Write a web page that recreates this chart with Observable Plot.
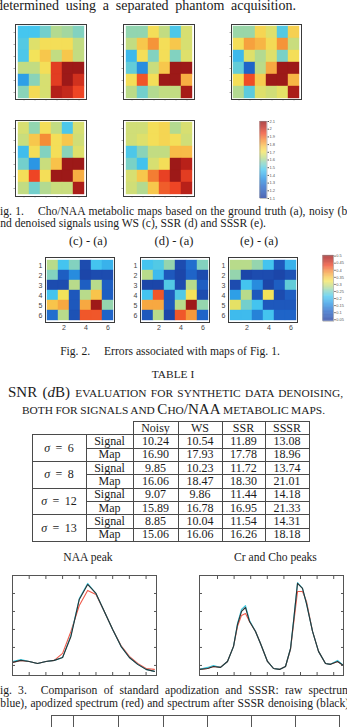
<!DOCTYPE html>
<html><head><meta charset="utf-8">
<script src="https://cdn.jsdelivr.net/npm/d3@7"></script>
<script src="https://cdn.jsdelivr.net/npm/@observablehq/plot@0.6"></script>
<style>
html,body{margin:0;padding:0;background:#fff;}
#page{position:relative;width:347px;height:727px;overflow:hidden;background:#fff;}
table.snr{position:absolute;left:31.5px;top:421px;border-collapse:collapse;table-layout:fixed;width:278px;font-family:"Liberation Serif","Times New Roman",serif;font-size:12px;color:#1b1b1b;}
table.snr tr{height:13.33px;}
table.snr td{border:1px solid #4a4a4a;padding:0;line-height:11px;text-align:center;white-space:nowrap;}
table.snr td.blank{border:none;}
table.t2{position:absolute;left:51px;top:715px;border-collapse:collapse;table-layout:fixed;width:289px;}
table.t2 td{border:1px solid #555;height:20px;padding:0;}
</style></head><body><div id="page"></div>
<script>
const SERIF = '"Liberation Serif","Times New Roman",serif';
const SANS = '"Liberation Sans",Arial,sans-serif';

// ---------- data ----------
const gridRows = [1, 2, 3, 4, 5, 6];
const gridCols = [1, 2, 3, 4, 5, 6];

const mapGroundTruth = [
  [1.47,1.47,1.53,1.61,1.59,1.55],
  [1.49,1.67,1.71,1.71,1.71,1.63],
  [1.48,1.70,1.76,1.63,1.76,1.63],
  [1.63,1.63,1.71,1.96,2.09,2.09],
  [1.38,1.56,1.66,1.96,2.09,1.99],
  [1.56,1.72,1.66,2.04,2.01,1.94]];
const mapNoisy = [
  [1.57,1.57,1.71,1.63,1.48,1.66],
  [1.63,1.76,1.84,1.71,1.76,1.66],
  [1.44,1.71,1.55,1.71,1.55,1.67],
  [1.51,1.34,1.64,1.76,2.09,2.09],
  [1.71,1.92,1.71,2.09,2.09,1.80],
  [1.62,1.53,1.61,1.63,1.63,2.07]];
const mapWS = [
  [1.58,1.58,1.73,1.67,1.49,1.74],
  [1.71,1.82,1.79,1.72,1.84,1.64],
  [1.44,1.67,1.61,1.67,1.54,1.71],
  [1.51,1.25,1.62,1.81,2.09,2.09],
  [1.71,1.93,1.75,2.09,2.09,1.79],
  [1.61,1.50,1.67,1.65,1.68,2.06]];
const mapSSR = [
  [1.66,1.57,1.71,1.63,1.48,1.66],
  [1.64,1.76,1.85,1.71,1.76,1.65],
  [1.45,1.71,1.55,1.71,1.56,1.67],
  [1.53,1.36,1.64,1.77,2.09,2.09],
  [1.71,1.94,1.71,2.09,2.09,1.80],
  [1.63,1.53,1.61,1.64,1.64,2.06]];
const mapSSSR = [
  [1.65,1.65,1.71,1.73,1.61,1.66],
  [1.65,1.67,1.71,1.73,1.71,1.65],
  [1.48,1.56,1.63,1.63,1.78,1.78],
  [1.54,1.46,1.66,1.71,2.09,2.03],
  [1.66,1.76,1.87,1.95,2.09,1.96],
  [1.65,1.61,1.76,1.91,1.94,2.03]];

const errWS = [
  [0.28,0.21,0.25,0.07,0.21,0.19],
  [0.25,0.10,0.15,0.06,0.07,0.07],
  [0.07,0.07,0.28,0.10,0.28,0.10],
  [0.21,0.32,0.09,0.28,0.35,0.10],
  [0.35,0.37,0.09,0.37,0.50,0.26],
  [0.12,0.28,0.08,0.42,0.42,0.11]];
const errSSR = [
  [0.21,0.22,0.26,0.07,0.12,0.25],
  [0.28,0.20,0.09,0.06,0.11,0.07],
  [0.06,0.06,0.22,0.07,0.28,0.10],
  [0.21,0.42,0.09,0.22,0.32,0.07],
  [0.37,0.37,0.09,0.28,0.50,0.26],
  [0.09,0.28,0.06,0.42,0.38,0.11]];
const errSSSR = [
  [0.28,0.28,0.26,0.21,0.09,0.19],
  [0.26,0.06,0.07,0.07,0.06,0.08],
  [0.07,0.21,0.15,0.06,0.10,0.23],
  [0.17,0.28,0.09,0.32,0.07,0.10],
  [0.31,0.24,0.21,0.09,0.09,0.09],
  [0.20,0.20,0.14,0.21,0.11,0.11]];

const ratioDomain = [1.1, 2.1];
const ratioTicks = [1.1,1.2,1.3,1.4,1.5,1.6,1.7,1.8,1.9,2,2.1];
const errorDomain = [0.04, 0.505];
const errorTicks = [0.05,0.1,0.15,0.2,0.25,0.3,0.35,0.4,0.45,0.5];
const errXTicks = [2, 4, 6];
const errTitles = ["(c) - (a)", "(d) - (a)", "(e) - (a)"];

const tableCols = ["Noisy", "WS", "SSR", "SSSR"];
const rowKinds = ["Signal", "Map"];
const sigmas = [6, 8, 12, 13];
const signalSNR = [[10.24,10.54,11.89,13.08],[9.85,10.23,11.72,13.74],[9.07,9.86,11.44,14.18],[8.85,10.04,11.54,14.31]];
const mapSNR = [[16.90,17.93,17.78,18.96],[16.06,18.47,18.30,21.01],[15.89,16.78,16.95,21.33],[15.06,16.06,16.26,18.18]];

const specTitles = ["NAA peak", "Cr and Cho peaks"];
const naaX = [0,1,2,3,4,5,6,7,8,9,10,11,12,13,14,15,16,17];
const naaRaw  = [0.22,0.33,0.22,0.11,0.22,0.28,0.44,1.67,3.72,4.56,4.00,3.00,2.00,1.06,0.44,0.06,-0.22,-0.33];
const naaApod = [0.17,0.28,0.22,0.11,0.22,0.28,0.67,1.89,3.33,4.17,3.94,3.00,2.00,1.11,0.50,0.11,-0.17,-0.22];
const naaSSSR = [0.17,0.28,0.22,0.11,0.22,0.28,0.44,1.61,3.67,4.50,4.00,3.00,2.00,1.06,0.44,0.06,-0.22,-0.33];
const crX = [-0.17,0.80,1.52,2.36,3.20,3.93,4.41,4.89,5.37,5.86,6.58,7.18,8.02,8.75,9.47,10.19,10.80,11.16,11.64,12.24,12.72,13.45,14.17,15.01,15.61,16.46,17.18];
const crRaw  = [-0.22,-0.11,0.00,-0.11,0.22,1.06,2.33,3.11,3.33,2.50,1.89,1.22,0.22,-0.17,-0.22,-0.06,0.94,2.50,4.61,4.28,3.44,1.89,0.78,0.11,0.06,0.28,0.00];
const crApod = [-0.22,-0.17,-0.06,-0.11,0.22,1.06,2.17,2.78,2.89,2.44,1.89,1.22,0.22,-0.17,-0.22,-0.06,0.90,2.28,4.11,4.11,3.56,1.89,0.78,0.11,0.06,0.22,0.00];
const crSSSR = [-0.22,-0.17,-0.06,-0.11,0.22,1.06,2.28,3.00,3.22,2.44,1.89,1.22,0.22,-0.17,-0.22,-0.06,0.94,2.44,4.56,4.28,3.44,1.89,0.78,0.11,0.06,0.22,0.00];
const specXTicks = [2,4,6,8,10,12,14,16];
const specYTicks = [0,1,2,3,4];

// ---------- styles ----------
const palStops  = [0,0.15,0.27,0.37,0.45,0.52,0.60,0.67,0.75,0.84,0.93,1];
const palColors = ["#1b3a9c","#1f64c8","#2c9be6","#45c6ef","#82d2c0","#bbdb88","#f3e35a","#f8c24a","#f58d37","#ee4525","#b82119","#991818"];
const pal = d3.scaleLinear().domain(palStops).range(palColors).interpolate(d3.interpolateRgb).clamp(true);
const colRaw = "#3cc6dc", colApod = "#f05a4a", colSSSR = "#2b3333";

const page = document.getElementById("page");
function place(node, left, top) {
  const d = document.createElement("div");
  d.style.cssText = `position:absolute;left:${left}px;top:${top}px;line-height:0;`;
  d.appendChild(node); page.appendChild(d); return d;
}

function heatPlot(M, fw, fh, domain, labelled) {
  const data = M.flatMap((row, i) => row.map((v, j) => ({r: gridRows[i], c: gridCols[j], v})));
  const ml = labelled ? 10 : 3, mb = labelled ? 10 : 3;
  const marks = [Plot.cell(data, {x: "c", y: "r", fill: "v", stroke: "v", strokeWidth: 0.4})];
  if (labelled) {
    marks.push(Plot.axisX(errXTicks, {anchor: "bottom", tickSize: 0, tickPadding: 2.5, fontSize: 7, fill: "#444"}));
    marks.push(Plot.axisY(gridRows, {anchor: "left", tickSize: 0, tickPadding: 3, fontSize: 7, fill: "#444"}));
  } else {
    marks.push(Plot.axisX(gridCols, {anchor: "bottom", tickSize: 1.5, stroke: "#b0b0b0", tickFormat: () => ""}));
    marks.push(Plot.axisY(gridRows, {anchor: "left", tickSize: 1.5, stroke: "#b0b0b0", tickFormat: () => ""}));
  }
  marks.push(Plot.frame({stroke: "#3a3a3a", strokeWidth: 1}));
  const svg = Plot.plot({
    width: fw + ml + 1, height: fh + mb + 1,
    marginLeft: ml, marginRight: 1, marginTop: 1, marginBottom: mb,
    style: {fontFamily: SANS, fontSize: "7px", color: "#444", background: "transparent"},
    x: {type: "band", domain: gridCols, padding: 0, label: null},
    y: {type: "band", domain: gridRows, padding: 0, label: null},
    color: {type: "linear", domain, interpolate: t => pal(t)},
    marks
  });
  return {svg, ml};
}

function colorbar(domain, ticks, fw, fh) {
  const n = 150, step = (domain[1] - domain[0]) / n;
  const ramp = d3.range(n).map(i => domain[0] + i * step);
  return Plot.plot({
    width: fw + 1 + 14, height: fh + 6,
    marginLeft: 0.5, marginRight: 14.5, marginTop: 3, marginBottom: 3,
    style: {fontFamily: SANS, fontSize: "4px", color: "#555", background: "transparent"},
    y: {domain, label: null},
    color: {type: "linear", domain, interpolate: t => pal(t)},
    marks: [
      Plot.rect(ramp, {y1: d => d, y2: d => d + step * 1.05, fill: d => d}),
      Plot.axisY(ticks, {anchor: "right", tickSize: 1.5, tickPadding: 1, fontSize: 4, tickFormat: d => String(d)}),
      Plot.frame({stroke: "#888", strokeWidth: 0.5})
    ]
  });
}

function specPlot(X, series, xdomain) {
  const marks = [];
  for (const [Y, color] of series)
    marks.push(Plot.line(X.map((x, i) => ({x, y: Y[i]})), {x: "x", y: "y", stroke: color, strokeWidth: 1.1}));
  const ax = {tickSize: 3, stroke: "#555", tickFormat: () => ""};
  marks.push(Plot.axisX(specXTicks, {...ax, anchor: "bottom", dy: -3}));
  marks.push(Plot.axisX(specXTicks, {...ax, anchor: "top", dy: 3}));
  marks.push(Plot.axisY(specYTicks, {...ax, anchor: "left", dx: 3}));
  marks.push(Plot.axisY(specYTicks, {...ax, anchor: "right", dx: -3}));
  marks.push(Plot.frame({stroke: "#555", strokeWidth: 1}));
  return Plot.plot({
    width: 146, height: 102, margin: 1,
    style: {background: "transparent", color: "#555"},
    x: {domain: xdomain, label: null},
    y: {domain: [-0.56, 5], label: null},
    marks
  });
}

// ---------- Fig. 1 ----------
const fig1 = [
  [mapGroundTruth, 15, 24, 71, 75], [mapNoisy, 123, 24, 71, 75], [mapWS, 231, 24, 70, 75],
  [mapSSR, 15, 120, 71, 76], [mapSSSR, 123, 120, 71, 76]];
for (const [M, fx, fy, fw, fh] of fig1) {
  const {svg, ml} = heatPlot(M, fw, fh, ratioDomain, false);
  place(svg, fx - ml, fy - 1);
}
place(colorbar(ratioDomain, ratioTicks, 7, 77), 259 - 0.5, 121 - 3);

// ---------- Fig. 2 ----------
const fig2 = [[errWS, 45, 257, 69, 65], [errSSR, 140, 257, 69, 65], [errSSSR, 228, 257, 69, 65]];
for (const [M, fx, fy, fw, fh] of fig2) {
  const {svg, ml} = heatPlot(M, fw, fh, errorDomain, true);
  place(svg, fx - ml, fy - 1);
}
place(colorbar(errorDomain, errorTicks, 11, 67), 322 - 0.5, 255 - 3);

// ---------- Table I ----------
let html = `<table class="snr"><colgroup>${[54,47,45,44,43,44].map(w => `<col style="width:${w}px">`).join("")}</colgroup>`;
html += `<tr><td class="blank"></td><td class="blank"></td>${tableCols.map(c => `<td>${c}</td>`).join("")}</tr>`;
sigmas.forEach((s, i) => {
  html += `<tr><td rowspan="2"><i>σ</i> \u2009= \u2009${s}</td><td>${rowKinds[0]}</td>${signalSNR[i].map(v => `<td>${v.toFixed(2)}</td>`).join("")}</tr>`;
  html += `<tr><td>${rowKinds[1]}</td>${mapSNR[i].map(v => `<td>${v.toFixed(2)}</td>`).join("")}</tr>`;
});
html += `</table>`;
html += `<table class="t2"><colgroup>${[22,45,45,44,44,44,44].map(w => `<col style="width:${w}px">`).join("")}</colgroup><tr>${"<td></td>".repeat(7)}</tr></table>`;
page.insertAdjacentHTML("beforeend", html);

// ---------- Fig. 3 ----------
place(specPlot(naaX, [[naaApod, colApod], [naaRaw, colRaw], [naaSSSR, colSSSR]], [0, 17.25]), 11, 574);
place(specPlot(crX, [[crApod, colApod], [crRaw, colRaw], [crSSSR, colSSSR]], [-0.17, 17.18]), 198, 574);

// ---------- text ----------
const svgT = d3.select(page).append("svg").attr("width", 347).attr("height", 727)
  .style("position", "absolute").style("left", 0).style("top", 0).style("overflow", "visible");
function T(x, y, s, {size = 11.6, anchor = "start", family = SERIF, fill = "#1b1b1b", justify = null} = {}) {
  const t = svgT.append("text").attr("x", x).attr("y", y).attr("font-size", size)
    .attr("font-family", family).attr("text-anchor", anchor).attr("fill", fill).text(s);
  if (justify != null) {
    const nat = t.node().getComputedTextLength();
    const n = (s.match(/ /g) || []).length;
    t.style("word-spacing", ((justify - x - nat) / n) + "px");
  }
  return t;
}
function SC(cx, y, parts, width) {
  const t = svgT.append("text").attr("x", cx).attr("y", y).attr("text-anchor", "middle")
    .attr("font-family", SERIF).attr("fill", "#1b1b1b");
  let n = 0;
  for (const [s, size, it] of parts) {
    t.append("tspan").attr("font-size", size).attr("font-style", it ? "italic" : null).text(s);
    n += (s.match(/ /g) || []).length;
  }
  const nat = t.node().getComputedTextLength();
  t.style("word-spacing", ((width - nat) / n) + "px");
}
const G = "\u2002\u2002\u2009";
T(-4, 9.5, "determined using a separated phantom acquisition.", {size: 14, justify: 296});
T(-6.5, 215, `Fig. 1.${G}Cho/NAA metabolic maps based on the ground truth (a), noisy (b),`, {justify: 354});
T(-5, 227, "and denoised signals using WS (c), SSR (d) and SSSR (e).");
errTitles.forEach((s, i) => T([88, 174, 259][i], 245, s, {size: 12.5, anchor: "middle"}));
T(170, 355, `Fig. 2.${G}Errors associated with maps of Fig. 1.`, {anchor: "middle"});
T(173, 378, "TABLE I", {size: 11.4, anchor: "middle"});
SC(175.5, 396.5, [["SNR (", 15], ["d", 15, true], ["B) ", 15], ["EVALUATION FOR SYNTHETIC DATA DENOISING,", 11.4]], 335);
SC(173.5, 413.5, [["BOTH FOR SIGNALS AND ", 11.4], ["C", 15], ["HO", 11.4], ["/NAA ", 15], ["METABOLIC MAPS.", 11.4]], 303);
T(88, 561, specTitles[0], {anchor: "middle"});
T(275.5, 561, specTitles[1], {anchor: "middle"});
T(-6.5, 693.5, `Fig. 3.${G}Comparison of standard apodization and SSSR: raw spectrum`, {justify: 351});
T(-3.5, 706.5, "(blue), apodized spectrum (red) and spectrum after SSSR denoising (black).", {justify: 352});
</script></body></html>
